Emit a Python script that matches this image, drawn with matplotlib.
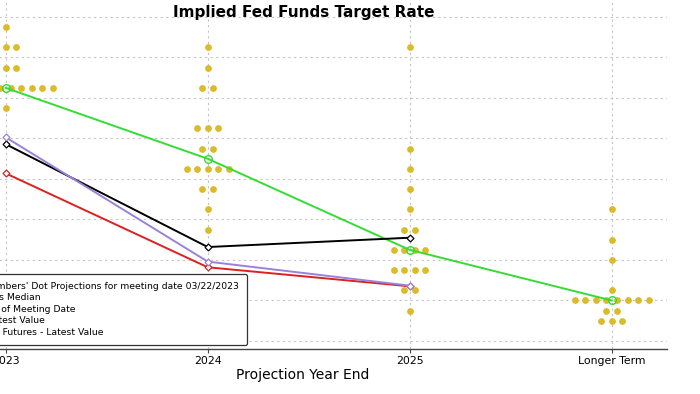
import numpy as np
import matplotlib
matplotlib.use('Agg')
import matplotlib.pyplot as plt

# categories on the x axis
years = ['2023', '2024', '2025', 'Longer Term']

# FOMC dots: rate levels and how many members sit at each one
dot_rates = [
    [5.875, 5.625, 5.375, 5.125, 4.875],
    [5.625, 5.375, 5.125, 4.625, 4.375, 4.125, 3.875, 3.625, 3.375],
    [5.625, 4.375, 4.125, 3.875, 3.625, 3.375, 3.125, 2.875, 2.625, 2.375],
    [3.625, 3.25, 3.0, 2.625, 2.5, 2.375, 2.25],
]
dot_counts = [
    [1, 3, 3, 10, 1],
    [1, 1, 2, 3, 2, 5, 2, 1, 1],
    [1, 1, 1, 1, 1, 2, 4, 4, 2, 1],
    [1, 1, 1, 1, 8, 2, 3],
]

dots_median = [5.125, 4.25, 3.125, 2.5]
market_meeting = [4.43, 3.16, 3.275]
market_latest = [4.515, 2.98, 2.683]
ff_futures_latest = [4.07, 2.91, 2.675]

labels = ["FOMC Members' Dot Projections for meeting date 03/22/2023",
          "FOMC Dots Median",
          "Market as of Meeting Date",
          "Market Latest Value",
          "Fed Funds Futures - Latest Value"]

yellow = '#dcbb2a'
green = '#33dd33'
purple = '#9a82d8'
red = '#dd2020'

W, H = 700, 394
fig = plt.figure(figsize=(7, 3.94), dpi=100)

# axes in pixel terms (left part of the chart is cut off like the reference)
left_px, right_px = -65.0, 666.7
bot_px, top_px = 349.0, -3.25
ax = fig.add_axes([left_px / W, 1 - bot_px / H, (right_px - left_px) / W, (bot_px - top_px) / H])
ax.set_xlim(-0.35, 3.272)
ax.set_ylim(1.901, 6.25)

# dots, spread sideways around each year
step = 0.052
dx, dy = [], []
for i in range(len(years)):
    for r, n in zip(dot_rates[i], dot_counts[i]):
        offs = (np.arange(n) - (n - 1) / 2.0) * step
        dx += list(i + offs)
        dy += [r] * n
ax.scatter(dx, dy, s=24, color=yellow, linewidths=0, zorder=2, label=labels[0])

x = np.arange(len(years))
ax.plot(x, dots_median, color=green, lw=1.4, marker='o', ms=5.5, mfc='none', mew=1.0,
        zorder=4, label=labels[1])
ax.plot(x[:3], market_meeting, color='black', lw=1.4, marker='D', ms=3.5, mfc='white', mew=0.9,
        zorder=4, label=labels[2])
ax.plot(x[:3], ff_futures_latest, color=red, lw=1.4, marker='D', ms=3.5, mfc='white', mew=0.9,
        zorder=4, label=labels[4])
ax.plot(x[:3], market_latest, color=purple, lw=1.4, marker='D', ms=3.5, mfc='white', mew=0.9,
        zorder=5, label=labels[3])

# grid
ax.set_yticks(np.arange(2.0, 6.01, 0.5))
ax.set_xticks(x)
ax.set_xticklabels(years, fontsize=7.8)
ax.tick_params(axis='y', left=False, labelleft=False)
ax.tick_params(axis='x', length=3, width=0.8, color='#444444', pad=2)
ax.grid(True, color='#c4c4c4', linestyle=(0, (2, 3)), linewidth=0.8, zorder=0)
ax.set_axisbelow(True)
for s in ['top', 'right', 'left']:
    ax.spines[s].set_visible(False)
ax.spines['bottom'].set_color('#444444')
ax.spines['bottom'].set_linewidth(1.0)

fig.text(304 / W, 1 - 12 / H, 'Implied Fed Funds Target Rate', fontsize=11, fontweight='bold',
         ha='center', va='center')
fig.text(303 / W, 1 - 375 / H, 'Projection Year End', fontsize=10, ha='center', va='center')

h, l = ax.get_legend_handles_labels()
hd = dict(zip(l, h))
leg = fig.legend([hd[t] for t in labels], labels, loc='upper right',
                 bbox_to_anchor=(247 / W, 1 - 274 / H), borderaxespad=0, fontsize=6.65,
                 frameon=True, fancybox=True, framealpha=1, edgecolor='#333333',
                 labelspacing=0.27, handlelength=1.5, borderpad=0.85, handletextpad=0.5)
leg.get_frame().set_linewidth(0.9)

plt.savefig('out.png', dpi=100)
